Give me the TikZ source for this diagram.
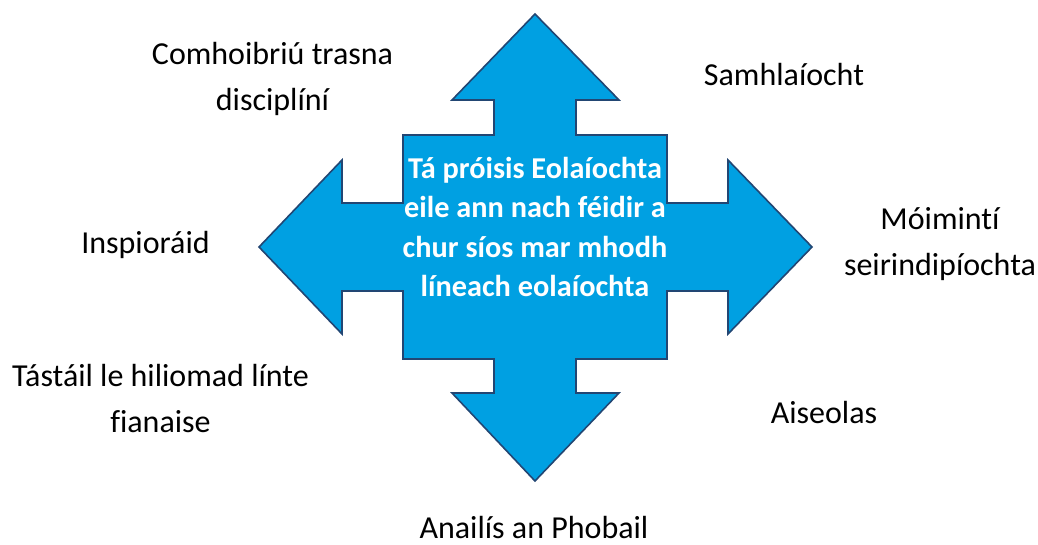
\documentclass[tikz,border=0pt]{standalone}
\usepackage{fontspec}
\setmainfont{Carlito}[Ligatures=NoCommon]
\definecolor{arrowblue}{RGB}{0,160,226}
\definecolor{arrowedge}{RGB}{34,70,115}

\begin{document}
\begin{tikzpicture}
[x=1pt,y=-1pt,
label/.style={align=center,anchor=base,inner sep=0pt,font=\fontsize{32}{46}\selectfont},
centre/.style={align=center,inner sep=0pt,text=white,font=\bfseries\fontsize{30.3}{39.5}\selectfont}]
\useasboundingbox (0,0) rectangle (1038,544);

\draw[fill=arrowblue,draw=arrowedge,line width=1.6pt,line join=miter]
(535,14) -- (619,100) -- (576,100) -- (576,135) -- (667,135) -- (667,203) -- (728,203) -- (728,160)
-- (812,247) -- (728,334) -- (728,291) -- (667,291) -- (667,359) -- (576,359) -- (576,393) -- (619,393)
-- (535,481) -- (452,393) -- (494,393) -- (494,359) -- (403,359) -- (403,291) -- (342,291) -- (342,334)
-- (259,247) -- (342,160) -- (342,203) -- (403,203) -- (403,135) -- (494,135) -- (494,100) -- (452,100) -- cycle;

\node[centre] (C) at (535,227) {Tá próisis Eolaíochta\\eile ann nach féidir a\\chur síos mar mhodh\\líneach eolaíochta};

\node[label] (comh) at (272.5,110) {Comhoibriú trasna\\disciplíní};
\node[label] (samh) at (784,85) {Samhlaíocht};
\node[label] (insp) at (145.5,253) {Inspioráid};
\node[label] (moim) at (940,275) {Móimintí\\seirindipíochta};
\node[label] (tast) at (160.5,432) {Tástáil le hiliomad línte\\fianaise};
\node[label] (aise) at (824,423) {Aiseolas};
\node[label] (anal) at (534,538) {Anailís an Phobail};
\end{tikzpicture}
\end{document}
